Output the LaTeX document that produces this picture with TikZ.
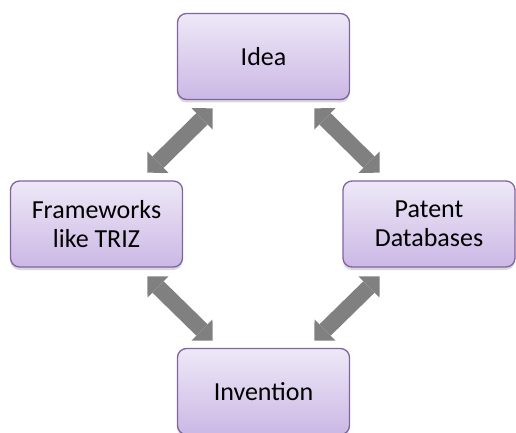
\documentclass[tikz,border=0pt]{standalone}
\usepackage{fontspec}
\setmainfont{Carlito}
\usetikzlibrary{arrows.meta,shadows}
\definecolor{boxtop}{HTML}{EEE8F7}
\definecolor{boxbot}{HTML}{CBB8E5}
\definecolor{boxline}{HTML}{8064A2}
\definecolor{arrgray}{HTML}{808080}
\tikzset{
  box/.style={rounded corners=9pt, top color=boxtop, bottom color=boxbot,
    draw=boxline, line width=1.3pt, minimum width=172pt, minimum height=86pt,
    align=center, font=\fontsize{26}{29}\selectfont, text=black,
    drop shadow={shadow xshift=0pt, shadow yshift=-3pt, opacity=0.25, fill=black!60}},
  link/.style={draw=arrgray, line width=16pt,
    {Triangle[length=15pt,width=30pt,line width=0pt]}-{Triangle[length=15pt,width=30pt,line width=0pt]}}
}
\begin{document}
\begin{tikzpicture}[x=1pt,y=-1pt]
\useasboundingbox (0,0) rectangle (516,433);
\begin{scope}
\clip (0,0) rectangle (516,433);
\node[box] (idea) at (263.5,56.5) {Idea};
\node[box] (frame) at (96.5,224) {Frameworks\\like TRIZ};
\node[box] (patent) at (429,224) {Patent\\Databases};
\node[box] (inv) at (263.5,391.5) {Invention};
\end{scope}
\coordinate (a1) at (212.7,108.3);
\coordinate (a2) at (147.3,172.7);
\coordinate (b1) at (314.3,108.3);
\coordinate (b2) at (379.7,172.7);
\coordinate (c1) at (147.3,276.5);
\coordinate (c2) at (212.7,340.5);
\coordinate (d1) at (379.7,276.5);
\coordinate (d2) at (314.3,340.5);
\draw[link] (a1) -- (a2);
\draw[link] (b1) -- (b2);
\draw[link] (c1) -- (c2);
\draw[link] (d1) -- (d2);
\end{tikzpicture}
\end{document}
